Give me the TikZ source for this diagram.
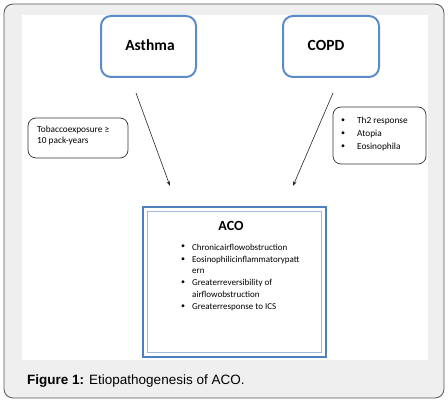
\documentclass[tikz,border=0pt]{standalone}
\usepackage{fontspec}
\setmainfont{Carlito}
\newfontfamily\capfont{Liberation Sans}
\usetikzlibrary{arrows.meta}
\definecolor{frameg}{HTML}{EFEFEF}
\definecolor{framed}{HTML}{555555}
\definecolor{boxblue}{HTML}{5B8BC9}
\definecolor{acoblue}{HTML}{4F7FBF}
\definecolor{acolight}{HTML}{9DB9DE}
\tikzset{
  mainbox/.style={draw=boxblue, line width=2pt, rounded corners=10pt, fill=white},
  notebox/.style={draw=black!80, line width=0.7pt, rounded corners=8pt, fill=white},
  boxtitle/.style={font=\fontsize{15.5}{17}\selectfont\bfseries},
  small/.style={font=\fontsize{9.3}{11}\selectfont, anchor=west, inner sep=0pt},
  acotext/.style={font=\fontsize{9}{11}\selectfont, anchor=west, inner sep=0pt},
  bul/.style={font=\fontsize{8}{10}\selectfont, inner sep=0pt},
  conn/.style={draw=black!85, line width=0.6pt, -{Stealth[length=5pt,width=3.5pt]}}
}
\begin{document}
\begin{tikzpicture}[x=1pt,y=-1pt]
\useasboundingbox (0,0) rectangle (448,403);
% outer frame
\draw[fill=frameg, draw=framed, line width=0.8pt, rounded corners=9pt] (4,4) rectangle (444,398);
\fill[white] (22,15) rectangle (428,360);
% top boxes
\draw[mainbox] (101,16) rectangle (196,77);
\node[boxtitle] (asthma) at (150,45) {Asthma};
\draw[mainbox] (283,16) rectangle (379,77);
\node[boxtitle] (copd) at (326,45) {COPD};
% side notes
\draw[notebox] (28,118) rectangle (128,158);
\node[small] (tob1) at (37,130) {Tobaccoexposure ≥};
\node[small] (tob2) at (37,141.5) {10 pack-years};
\draw[notebox] (333,107) rectangle (426,164);
\node[bul] (b1) at (343,121) {•};
\node[small] (r1) at (357,121) {Th2 response};
\node[bul] (b2) at (343,134) {•};
\node[small] (r2) at (357,134) {Atopia};
\node[bul] (b3) at (343,147) {•};
\node[small] (r3) at (357,147) {Eosinophila};
% ACO box
\draw[draw=acoblue, line width=2.5pt] (143,207) rectangle (326,357);
\draw[draw=acolight, line width=1pt] (147.5,211.5) rectangle (321.5,352.5);
\node[font=\fontsize{14}{16}\selectfont\bfseries] (aco) at (231,226) {ACO};
\node[bul] (c1) at (183,247) {•};
\node[acotext] (t1) at (192,247) {Chronicairflowobstruction};
\node[bul] (c2) at (183,260) {•};
\node[acotext] (t2) at (192,260) {Eosinophilicinflammatorypatt};
\node[acotext] (t2b) at (192,271) {ern};
\node[bul] (c3) at (183,283) {•};
\node[acotext] (t3) at (192,283) {Greaterreversibility of};
\node[acotext] (t3b) at (192,294) {airflowobstruction};
\node[bul] (c4) at (183,307) {•};
\node[acotext] (t4) at (192,307) {Greaterresponse to ICS};
% connectors
\coordinate (a1) at (136,93);
\coordinate (a2) at (170,186);
\coordinate (p1) at (333,93);
\coordinate (p2) at (293,186);
\draw[conn] (a1) -- (a2);
\draw[conn] (p1) -- (p2);
% caption
\node[anchor=base west, inner sep=0pt, font=\capfont\fontsize{13.5}{15}\selectfont] (cap) at (27,384.5) {\textbf{Figure 1:} Etiopathogenesis of ACO.};
\end{tikzpicture}
\end{document}
